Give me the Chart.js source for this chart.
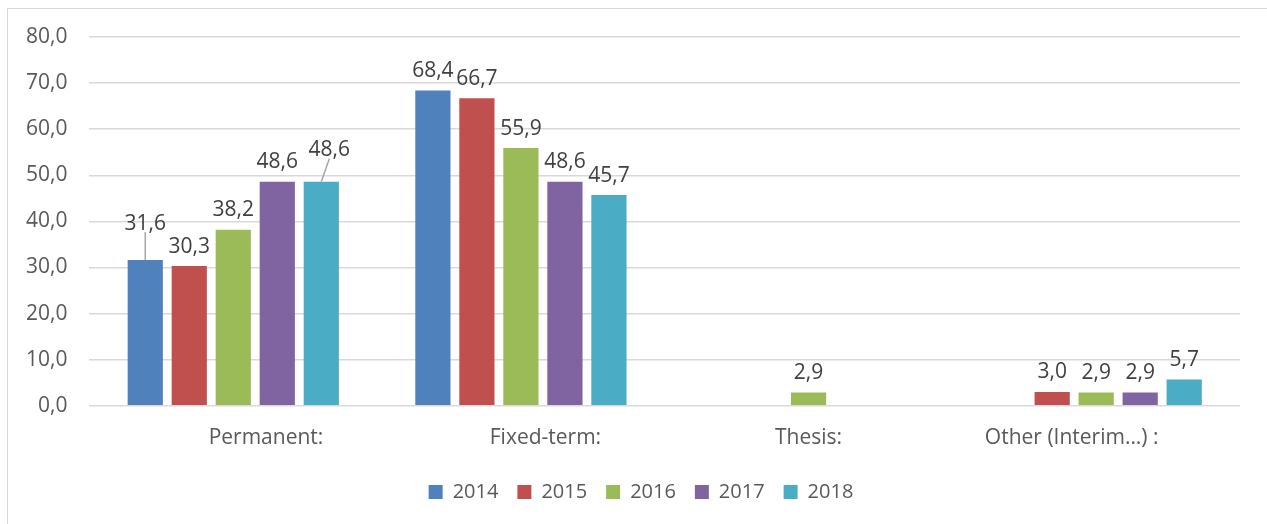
<!DOCTYPE html>
<html>
<head>
<meta charset="utf-8">
<script src="https://cdn.jsdelivr.net/npm/chart.js@4"></script>
<style>
    body { margin: 0; background: #fff; overflow: hidden; }
    #wrap { position: relative; width: 1267px; height: 524px; }
    #frame { position: absolute; left: 7px; top: 8px; width: 1300px; height: 600px; border: 1.5px solid #d9d9d9; box-sizing: border-box; }
    canvas { position: absolute; left: 0; top: 0; }
</style>
</head>
<body>
<div id="wrap">
    <div id="frame"></div>
    <canvas id="contractChart" width="1267" height="524"></canvas>
</div>
<script>
const sp = n => '\u00a0'.repeat(n);
const categories = [sp(12) + 'Permanent:', sp(9) + 'Fixed-term:', 'Thesis:', 'Other (Interim…) :' + sp(9)];
const years = ['2014', '2015', '2016', '2017', '2018'];
const values2014 = [31.6, 68.4, null, null];
const values2015 = [30.3, 66.7, null, 3.0];
const values2016 = [38.2, 55.9, 2.9, 2.9];
const values2017 = [48.6, 48.6, null, 2.9];
const values2018 = [48.6, 45.7, null, 5.7];
const colors = ['#4F81BD', '#C0504D', '#9BBB59', '#8064A2', '#4BACC6'];
const yTicks = [0, 10, 20, 30, 40, 50, 60, 70, 80];

// labels that Excel pushed up with a leader line
const leaders = [
    { ds: 0, i: 0, lift: 17, dx: 0 },
    { ds: 4, i: 0, lift: 12, dx: 8 }
];

const fmt = v => v.toFixed(1).replace('.', ',');
const FONT = '"Open Sans", "Noto Sans", sans-serif';
const FS = 21;
const LEGEND_SHIFT = 19;

const valueLabels = {
    id: 'valueLabels',
    beforeDraw(chart) {
        // legend in the original sits a bit right of centre
        const lg = chart.legend;
        if (lg && !lg._shifted) {
            lg.left += LEGEND_SHIFT;
            lg.right += LEGEND_SHIFT;
            lg._shifted = true;
        }
    },
    afterDatasetsDraw(chart) {
        const ctx = chart.ctx;
        ctx.save();
        ctx.font = FS + 'px ' + FONT;
        ctx.fillStyle = '#404040';
        ctx.textAlign = 'center';
        ctx.textBaseline = 'bottom';
        chart.data.datasets.forEach((ds, d) => {
            const meta = chart.getDatasetMeta(d);
            meta.data.forEach((bar, i) => {
                const v = ds.data[i];
                if (v === null) return;
                const lead = leaders.find(l => l.ds === d && l.i === i);
                const lift = lead ? lead.lift : 0;
                const dx = lead ? lead.dx : 0;
                const ty = bar.y - 13 - lift;
                if (lead) {
                    ctx.strokeStyle = '#a6a6a6';
                    ctx.lineWidth = 1.5;
                    ctx.beginPath();
                    ctx.moveTo(bar.x, bar.y);
                    ctx.lineTo(bar.x + dx, ty + 2);
                    ctx.stroke();
                }
                ctx.fillText(fmt(v), bar.x + dx, ty + 4);
            });
        });
        ctx.restore();
    }
};

const series = [values2014, values2015, values2016, values2017, values2018];

const ctx = document.getElementById('contractChart').getContext('2d');
const contractChart = new Chart(ctx, {
    type: 'bar',
    data: {
        labels: categories,
        datasets: years.map((y, k) => ({
            label: y,
            data: series[k],
            backgroundColor: colors[k],
            categoryPercentage: 0.765,
            barPercentage: 0.8
        }))
    },
    options: {
        responsive: false,
        animation: false,
        layout: { padding: { left: 4, right: 27, top: 37, bottom: 12 } },
        plugins: {
            tooltip: { enabled: false },
            legend: {
                position: 'bottom',
                labels: {
                    font: { family: FONT, size: 20 },
                    color: '#595959',
                    boxWidth: 14,
                    boxHeight: 14,
                    padding: 19
                }
            }
        },
        scales: {
            x: {
                grid: { display: false },
                border: { display: false },
                ticks: {
                    font: { family: FONT, size: FS },
                    color: '#595959',
                    padding: 12
                }
            },
            y: {
                min: 0,
                max: 80,
                afterBuildTicks: axis => { axis.ticks = yTicks.map(v => ({ value: v })); },
                grid: { color: '#d9d9d9', lineWidth: 1.5, drawTicks: false },
                border: { display: false },
                ticks: {
                    font: { family: FONT, size: FS },
                    color: '#595959',
                    padding: 22,
                    callback: v => fmt(v)
                }
            }
        }
    },
    plugins: [valueLabels]
});
</script>
</body>
</html>
